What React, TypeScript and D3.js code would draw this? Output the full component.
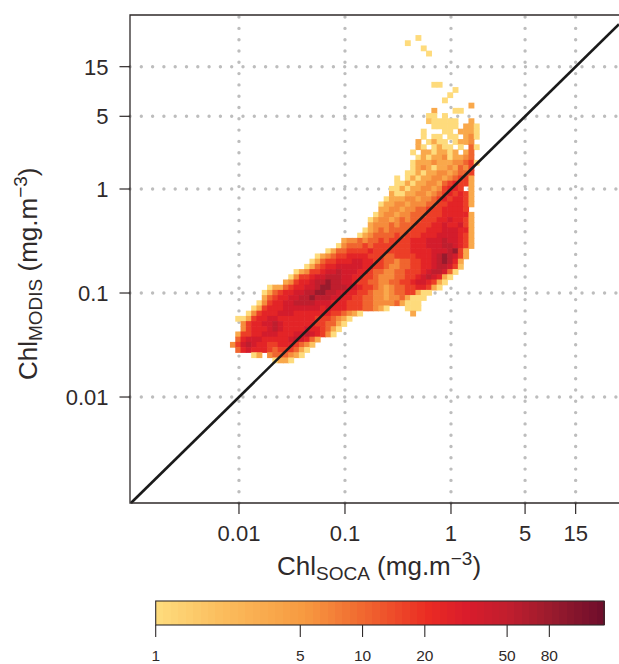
import React from "react";
import * as d3 from "d3";

const W = 619, H = 664;
const xTicks = [0.01, 0.1, 1, 5, 15];
const yTicks = [0.01, 0.1, 1, 5, 15];
const barTicks = [1, 5, 10, 20, 50, 80];
const colorStops = [1, 2, 5, 10, 20, 30, 50, 80, 147];
const colorValues = ["#fedb7c", "#fbbd5d", "#f79a40", "#f0652f", "#ea2b23", "#da1c2b", "#bf1e2e", "#981b2d", "#6a0c2b"];
const levelCounts: Record<string, number> = { "1": 1, "2": 1.8, "3": 3.5, "4": 6, "5": 10, "6": 16, "7": 24, "8": 34, "9": 50, a: 80 };
const binLog = 0.05;
const firstColLog = -2.085;
const firstRowLog = 1.48;

// [row, first column, binned density levels; "." is an empty bin]
const densityRows: [number, number, string][] = [
  [0, 35, "1"], [1, 33, "1"], [2, 36, "1"], [3, 37, "1"],
  [9, 38, "11"], [10, 42, "1"], [11, 41, "1"], [12, 40, "1"], [13, 45, "3"],
  [14, 38, "3...11"], [15, 37, "11.1"], [16, 37, "211111..3"], [17, 38, "11111.331"],
  [18, 36, "1...11.3331"], [19, 36, "1.11.11.341"], [20, 35, "3.1311.1334"], [21, 35, "31.1311.1.51"],
  [22, 34, "1.3313313.35"], [23, 35, "13133413345"], [24, 34, "1333433344561"], [25, 34, "134313343546"],
  [26, 33, "1131334434556"], [27, 31, "1.1313344345663"], [28, 31, "113133443567663"], [29, 30, "11313344346776.3"],
  [30, 30, "3113344345676763"], [31, 29, "13334434456767763"], [32, 28, "133443444556677763"], [33, 28, "33443445566677776"],
  [34, 27, "1344344555666777773"], [35, 26, "13443454556667787763"], [36, 26, "34445455566677877863"],
  [37, 25, "134545555666777888773"], [38, 24, "1345555656667778888763"], [39, 21, "3445455656666777888988763"],
  [40, 20, "14555656666666777888998763"], [41, 18, "1355666676666666777788" + "89a63"],
  [42, 16, "134566777766655666677789a9863"],
  [43, 15, "1356677788776655455667789a973"], [44, 14, "135677888887766544556677899862"],
  [45, 12, "1346678898887765544556667899851"], [46, 11, "1466788999887766544455667898731"],
  [47, 10, "34677899a9988766554455667887631"], [48, 7, "1335677889aa999887665434556677631"],
  [49, 6, "13567788" + "99aa9988" + "77665443" + "45566311"], [50, 6, "3567788" + "99a9998" + "8776655" + "4434453" + "111"],
  [51, 5, "14677889" + "99988877" + "76665544" + "4453111"], [52, 4, "13677788888887877766655431...111"],
  [53, 3, "1467778887777777665431.........3"], [54, 1, "1136778877777776665431"],
  [55, 2, "46778898777777665531"], [56, 2, "4677789877778776531"], [57, 1, "3667788877788987641"],
  [58, 1, "5788877777898753"], [59, 0, "4689877667776542"], [60, 1, "57877765666531"],
  [61, 4, "13.4555431"], [62, 8, "1331"],
];

const x = d3.scaleLog().domain([Math.pow(10, -3.028), Math.pow(10, 1.585)]).range([130, 619]);
const y = d3.scaleLog().domain([Math.pow(10, -3.019), Math.pow(10, 1.673)]).range([503, 15]);
const barX = d3.scaleLog().domain([1, 147]).range([155.7, 604]);
const color = d3.scaleLog<string>().domain(colorStops).range(colorValues).interpolate(d3.interpolateRgb).clamp(true);

const ink = "#2f2a2a";
const labelFont = "'Liberation Sans', Arial, sans-serif";

const cells = densityRows.flatMap(([r, c0, s]) =>
  s.split("").flatMap((ch, i) => {
    if (ch === ".") return [];
    const lx = firstColLog + binLog * (c0 + i);
    const ly = firstRowLog - binLog * r;
    return [{ lx, ly, count: levelCounts[ch] }];
  })
);
const barSteps = d3.range(0, 60).map((i) => Math.pow(147, i / 60));
const diag = d3.line<number>().x((v) => x(v)).y((v) => y(v));
const diagEnds = [Math.pow(10, -3.019), Math.pow(10, 1.585)];

export default function App() {
  return (
    <svg width={W} height={H} style={{ position: "absolute", left: 0, top: 0, background: "#fff" }} fontFamily={labelFont}>
      {xTicks.map((t) => (
        <line key={"gx" + t} x1={x(t)} x2={x(t)} y1={503} y2={15} stroke="#bdbdbd" strokeWidth={3.4} strokeLinecap="round" strokeDasharray="0 11.3" />
      ))}
      {yTicks.map((t) => (
        <line key={"gy" + t} x1={130} x2={619} y1={y(t)} y2={y(t)} stroke="#bdbdbd" strokeWidth={3.4} strokeLinecap="round" strokeDasharray="0 11.3" />
      ))}
      {cells.map((d, i) => (
        <rect
          key={i}
          x={x(Math.pow(10, d.lx))}
          y={y(Math.pow(10, d.ly))}
          width={x(Math.pow(10, d.lx + binLog)) - x(Math.pow(10, d.lx)) + 0.6}
          height={y(Math.pow(10, d.ly - binLog)) - y(Math.pow(10, d.ly)) + 0.6}
          fill={color(d.count)}
        />
      ))}
      <path d={diag(diagEnds) || ""} fill="none" stroke="#1a1a1a" strokeWidth={2.6} />
      <path d="M619,15H130V503H619" fill="none" stroke={ink} strokeWidth={1.3} />
      {xTicks.map((t) => (
        <g key={"tx" + t}>
          <line x1={x(t)} x2={x(t)} y1={503} y2={514} stroke={ink} strokeWidth={1.2} />
          <text x={x(t)} y={541} textAnchor="middle" fontSize={22} fill={ink}>{t}</text>
        </g>
      ))}
      {yTicks.map((t) => (
        <g key={"ty" + t}>
          <line x1={119.5} x2={130} y1={y(t)} y2={y(t)} stroke={ink} strokeWidth={1.2} />
          <text x={108.5} y={y(t) + 8} textAnchor="end" fontSize={22} fill={ink}>{t}</text>
        </g>
      ))}
      <text x={277} y={575} fontSize={26} fill={ink}>
        Chl<tspan fontSize={19} dy={5}>SOCA</tspan><tspan dy={-5}> (mg.m</tspan><tspan fontSize={19} dy={-10}>−3</tspan><tspan dy={10}>)</tspan>
      </text>
      <text transform="translate(37,380) rotate(-90)" fontSize={26} fill={ink}>
        Chl<tspan fontSize={19} dy={5}>MODIS</tspan><tspan dy={-5}> (mg.m</tspan><tspan fontSize={19} dy={-10}>−3</tspan><tspan dy={10}>)</tspan>
      </text>
      {barSteps.map((v, i) => {
        const next = i + 1 < barSteps.length ? barSteps[i + 1] : 147;
        return <rect key={"b" + i} x={barX(v)} y={601} width={barX(next) - barX(v) + 0.5} height={24} fill={color(v)} shapeRendering="crispEdges" />;
      })}
      <rect x={155.7} y={601} width={448.3} height={24} fill="none" stroke={ink} strokeWidth={1.1} />
      {barTicks.map((t) => (
        <g key={"bt" + t}>
          <line x1={barX(t)} x2={barX(t)} y1={625} y2={637} stroke={ink} strokeWidth={1.1} />
          <text x={barX(t)} y={660.5} textAnchor="middle" fontSize={15.5} fill={ink}>{t}</text>
        </g>
      ))}
    </svg>
  );
}
